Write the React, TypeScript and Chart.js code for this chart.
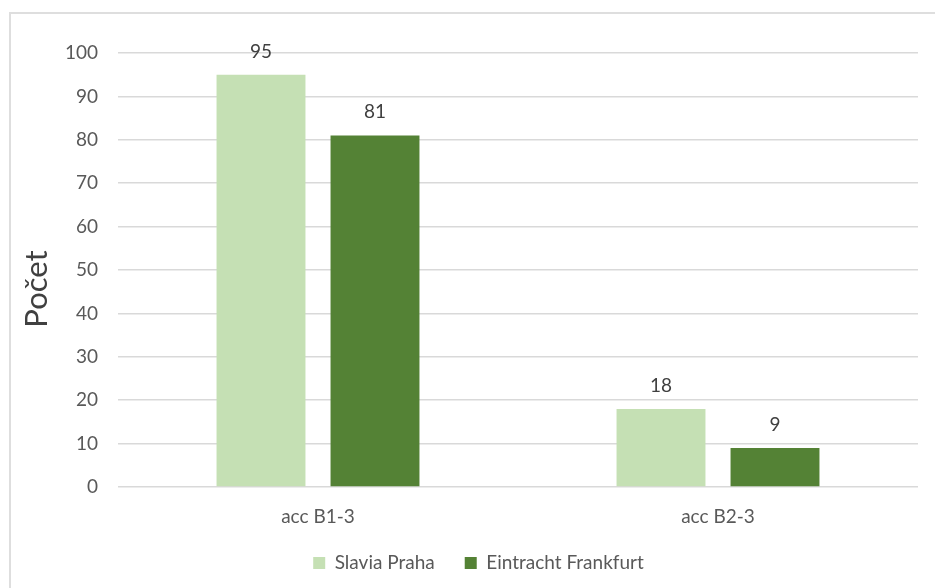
import React, { useEffect, useRef } from "react";
import { Chart, registerables } from "chart.js";

Chart.register(...registerables);

const categories = ["acc B1-3", "acc B2-3"];
const seriesNames = ["Slavia Praha", "Eintracht Frankfurt"];
const slaviaValues = [95, 18];
const eintrachtValues = [81, 9];
const yMin = 0;
const yMax = 100;
const yStep = 10;
const yAxisTitle = "Počet";

const FONT = "Lato, 'Open Sans', sans-serif";

const framePlugin = {
  id: "frame",
  beforeDraw(chart: any) {
    const ctx = chart.ctx;
    ctx.save();
    ctx.fillStyle = "#ffffff";
    ctx.fillRect(0, 0, chart.width, chart.height);
    ctx.strokeStyle = "#dedede";
    ctx.lineWidth = 2;
    ctx.strokeRect(10, 13, chart.width + 50, chart.height + 50);
    ctx.restore();
  },
};

const legendShiftPlugin = {
  id: "legendShift",
  afterLayout(chart: any) {
    const lg = chart.legend;
    if (lg) {
      lg.top -= 5.5;
      lg.bottom -= 5.5;
    }
  },
};

const yTitlePlugin = {
  id: "yTitle",
  afterDraw(chart: any) {
    const ctx = chart.ctx;
    ctx.save();
    ctx.translate(47, 289);
    ctx.rotate(-Math.PI / 2);
    ctx.textAlign = "center";
    ctx.textBaseline = "alphabetic";
    ctx.fillStyle = "#404040";
    ctx.font = `31px ${FONT}`;
    ctx.fillText(yAxisTitle, 0, 0);
    ctx.restore();
  },
};

const valueLabelPlugin = {
  id: "valueLabels",
  afterDatasetsDraw(chart: any) {
    const ctx = chart.ctx;
    ctx.save();
    ctx.textAlign = "center";
    ctx.textBaseline = "alphabetic";
    ctx.fillStyle = "#404040";
    ctx.font = `19px ${FONT}`;
    chart.data.datasets.forEach((ds: any, di: number) => {
      const meta = chart.getDatasetMeta(di);
      meta.data.forEach((bar: any, i: number) => {
        ctx.fillText(String(ds.data[i]), bar.x, bar.y - 17);
      });
    });
    ctx.restore();
  },
};

export default function App() {
  const canvasRef = useRef<HTMLCanvasElement | null>(null);

  useEffect(() => {
    if (!canvasRef.current) return;
    const chart = new Chart(canvasRef.current, {
      type: "bar",
      data: {
        labels: categories,
        datasets: [
          {
            label: seriesNames[0],
            data: slaviaValues,
            backgroundColor: "#C5E0B4",
            borderWidth: 0,
          },
          {
            label: seriesNames[1],
            data: eintrachtValues,
            backgroundColor: "#548235",
            borderWidth: 0,
          },
        ],
      },
      options: {
        animation: false,
        responsive: false,
        devicePixelRatio: 1,
        layout: { padding: { left: 39, right: 17, top: 53, bottom: 0 } },
        datasets: {
          bar: { categoryPercentage: 0.57, barPercentage: 0.78 },
        },
        scales: {
          x: {
            grid: { display: false },
            border: { display: false },
            ticks: {
              color: "#595959",
              font: { family: FONT, size: 19 },
              padding: 10,
            },
            afterFit(scale: any) {
              scale.height = 42;
            },
          },
          y: {
            min: yMin,
            max: yMax,
            border: { display: false },
            grid: { color: "#d9d9d9", lineWidth: 1.5, drawTicks: false },
            ticks: {
              stepSize: yStep,
              color: "#595959",
              font: { family: FONT, size: 19 },
              padding: 20,
            },
            afterFit(scale: any) {
              scale.width = 79;
            },
          },
        },
        plugins: {
          legend: {
            position: "bottom",
            labels: {
              boxWidth: 12,
              boxHeight: 12,
              padding: 30,
              color: "#595959",
              font: { family: FONT, size: 19 },
            },
          },
          tooltip: { enabled: false },
        },
      },
      plugins: [framePlugin, legendShiftPlugin, yTitlePlugin, valueLabelPlugin],
    });
    return () => chart.destroy();
  }, []);

  return (
    <div style={{ position: "absolute", left: 0, top: 0, width: 935, height: 588 }}>
      <canvas ref={canvasRef} width={935} height={588} />
    </div>
  );
}
